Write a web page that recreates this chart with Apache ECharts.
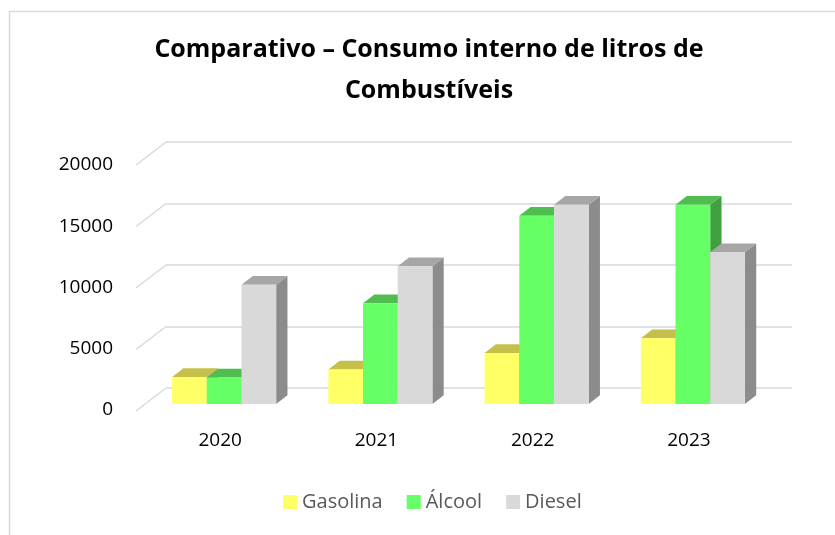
<!DOCTYPE html>
<html>
<head>
<meta charset="utf-8">
<title>Comparativo – Consumo interno de litros de Combustíveis</title>
<script src="https://cdn.jsdelivr.net/npm/echarts@6.0.0/dist/echarts.min.js"></script>
<style>
  html, body { margin: 0; padding: 0; background: #fff; }
  #chart { width: 835px; height: 535px; }
</style>
</head>
<body>
<div id="chart"></div>
<script>
const anos = ['2020', '2021', '2022', '2023']
const gasolina = [2200, 2800, 4150, 5350]
const alcool = [2150, 8200, 15300, 16200]
const diesel = [9700, 11200, 16200, 12350]
const yTicks = [0, 5000, 10000, 15000, 20000]

// front / top / side faces
const cores = [
  { front: '#ffff66', top: '#c4c04a', side: '#a6a33e' },
  { front: '#66ff66', top: '#4fbe4f', side: '#40a040' },
  { front: '#d9d9d9', top: '#a6a6a6', side: '#8c8c8c' }
]

const DX = 11.3
const DY = 8.7
const font = "'Open Sans', sans-serif"

function barra3d(idx) {
  return function (params, api) {
    const cat = api.value(0)
    const val = api.value(1)
    const band = api.size([1, 0])[0]
    const w = band * 0.222
    const base = api.coord([cat, 0])
    const topo = api.coord([cat, val])
    const x0 = base[0] + (idx - 1.5) * w
    const x1 = x0 + w
    const y0 = base[1]
    const y1 = topo[1]
    const c = cores[idx]
    return {
      type: 'group',
      children: [
        { type: 'polygon', shape: { points: [[x1, y0], [x1 + DX, y0 - DY], [x1 + DX, y1 - DY], [x1, y1]] }, style: { fill: c.side } },
        { type: 'polygon', shape: { points: [[x0, y1], [x1, y1], [x1 + DX, y1 - DY], [x0 + DX, y1 - DY]] }, style: { fill: c.top } },
        { type: 'rect', shape: { x: x0, y: y1, width: w, height: y0 - y1 }, style: { fill: c.front } }
      ]
    }
  }
}

// diagonal lines on the left side wall
function diagonal(params, api) {
  const p = api.coord([0, api.value(1)])
  return {
    type: 'line',
    shape: { x1: p[0], y1: p[1], x2: p[0] - 30, y2: p[1] + 23 },
    style: { stroke: '#d9d9d9', lineWidth: 1.5 }
  }
}

const serie = (nome, valores, idx) => ({
  name: nome,
  type: 'custom',
  xAxisIndex: 1,
  yAxisIndex: 1,
  itemStyle: { color: cores[idx].front },
  renderItem: barra3d(idx),
  data: valores.map((v, i) => [i, v])
})

const option = {
  animation: false,
  backgroundColor: '#fff',
  title: {
    text: 'Comparativo – Consumo interno de litros de\nCombustíveis',
    left: 424,
    textAlign: 'center',
    top: 24,
    textStyle: { fontFamily: font, fontSize: 25, fontWeight: 'bold', color: '#000', lineHeight: 41 }
  },
  legend: {
    data: ['Gasolina', 'Álcool', 'Diesel'],
    left: 283,
    top: 492,
    padding: 0,
    icon: 'rect',
    itemWidth: 14,
    itemHeight: 14,
    itemGap: 24,
    textStyle: { fontFamily: font, fontSize: 20, color: '#595959' }
  },
  graphic: [
    { type: 'rect', shape: { x: 9.5, y: 11.5, width: 900, height: 600 }, style: { fill: 'none', stroke: '#d9d9d9', lineWidth: 1.5 }, silent: true }
  ],
  grid: [
    { left: 166, right: 43, top: 142, bottom: 147 },
    { left: 146, right: 64, top: 158, bottom: 131 },
    { left: 136, right: 73, top: 165, bottom: 125 }
  ],
  xAxis: [
    { gridIndex: 0, type: 'value', min: 0, max: 1, show: false },
    {
      gridIndex: 1, type: 'category', data: anos,
      axisLine: { show: false }, axisTick: { show: false },
      axisLabel: { margin: 27, padding: [0, 8, 0, 0], fontFamily: font, fontSize: 19, color: '#000' }
    },
    { gridIndex: 2, type: 'category', data: anos, show: false }
  ],
  yAxis: [
    {
      gridIndex: 0, type: 'value', min: 0, max: 20000, interval: 5000,
      axisLabel: { show: false }, axisLine: { show: false }, axisTick: { show: false },
      splitLine: { lineStyle: { color: '#d9d9d9', width: 1.5 } }
    },
    { gridIndex: 1, type: 'value', min: 0, max: 20000, interval: 5000, show: false },
    {
      gridIndex: 2, type: 'value', min: 0, max: 20000, interval: 5000,
      axisLine: { show: false }, axisTick: { show: false }, splitLine: { show: false },
      axisLabel: { margin: 23, formatter: v => String(v), fontFamily: font, fontSize: 19, color: '#000' }
    }
  ],
  series: [
    {
      type: 'custom',
      xAxisIndex: 0,
      yAxisIndex: 0,
      silent: true,
      renderItem: diagonal,
      data: yTicks.map(v => [0, v])
    },
    serie('Gasolina', gasolina, 0),
    serie('Álcool', alcool, 1),
    serie('Diesel', diesel, 2)
  ]
}

const chart = echarts.init(document.getElementById('chart'))
chart.setOption(option)
</script>
</body>
</html>
